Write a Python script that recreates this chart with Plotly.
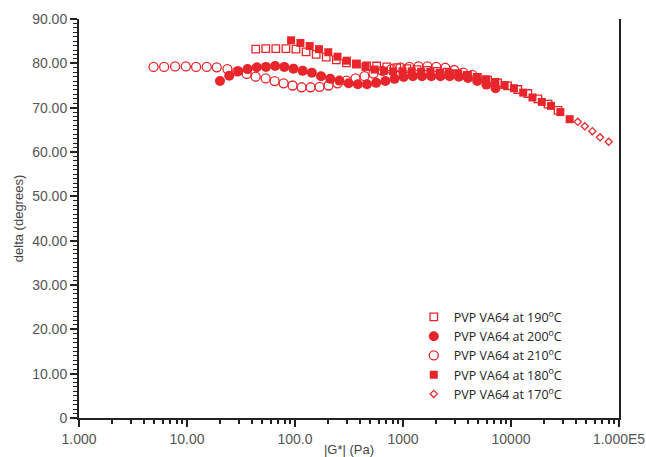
import plotly.graph_objects as go

# Complex modulus |G*| (Pa) and phase angle delta (degrees) for each melt temperature
g_190 = [43.3, 53.6, 66.4, 82.4, 102.1, 126.6, 157.0, 194.5, 241.3, 299.2, 370.7,
         460, 570, 707, 877, 1087, 1347, 1671, 2071, 2567, 3184, 3946, 4891,
         6066, 7516, 9311, 11560, 14320, 17750, 22030, 27290]
d_190 = [83.2, 83.3, 83.3, 83.3, 83.2, 82.6, 82.0, 81.4, 80.8, 80.1, 79.8,
         79.4, 79.4, 79.2, 79.0, 78.8, 78.6, 78.4, 78.2, 78.0, 77.7, 77.3, 76.8,
         76.2, 75.6, 74.9, 74.1, 73.2, 72.0, 70.8, 69.4]

g_200 = [20.2, 24.6, 29.9, 36.4, 44.3, 53.8, 65.5, 79.6, 96.8, 117.8, 143.2,
         174.2, 211.8, 257.6, 313.6, 381.4, 464.0, 564.2, 686.3, 834.9, 1015,
         1235, 1502, 1827, 2222, 2703, 3288, 3999, 4863, 5915, 7193]
d_200 = [76.0, 77.2, 78.2, 78.7, 79.1, 79.2, 79.4, 79.2, 78.8, 78.3, 77.9,
         77.1, 76.5, 76.1, 75.5, 75.3, 75.3, 75.6, 76.0, 76.5, 76.9,
         77.1, 77.1, 77.1, 77.1, 77.1, 77.0, 76.7, 76.0, 75.2, 74.4]

g_210 = [4.90, 6.14, 7.76, 9.75, 12.14, 15.24, 18.86, 23.67, 29.17, 35.70, 43.24,
         53.50, 64.79, 78.45, 95.0, 115.1, 139.4, 168.8, 204.4, 247.5, 299.9,
         363.2, 439.9, 532.6, 645.0, 781.3, 946.2, 1146, 1388, 1681, 2036,
         2466, 2985, 3616, 4379]
d_210 = [79.2, 79.2, 79.3, 79.3, 79.2, 79.2, 79.1, 78.7, 78.2, 77.6, 77.0,
         76.6, 76.0, 75.5, 75.0, 74.6, 74.6, 74.7, 75.0, 75.5, 76.1,
         76.6, 77.1, 77.7, 78.3, 78.7, 79.1, 79.2, 79.3, 79.3, 79.2,
         79.0, 78.5, 77.9, 77.4]

g_180 = [92.0, 112.2, 136.8, 166.7, 203.2, 247.7, 302, 368, 449, 547, 666,
         811, 989, 1205, 1469, 1791, 2183, 2661, 3243, 3953, 4819,
         5874, 7161, 8730, 10640, 12970, 15810, 19270, 23490, 28640, 34910]
d_180 = [85.2, 84.6, 83.9, 83.2, 82.5, 81.5, 80.6, 79.9, 79.2, 78.6, 78.3,
         78.2, 78.2, 78.2, 78.1, 78.1, 77.9, 77.8, 77.6, 77.3, 76.8,
         76.4, 75.8, 75.1, 74.4, 73.4, 72.3, 71.3, 70.4, 69.0, 67.4]

g_170 = [41520, 48190, 56650, 66730, 80320]
d_170 = [66.8, 65.8, 64.7, 63.3, 62.3]

x_tick_vals = [1, 10, 100, 1000, 10000, 100000]
x_tick_text = ["1.000", "10.00", "100.0", "1000", "10000", "1.000E5"]
y_tick_vals = [0, 10, 20, 30, 40, 50, 60, 70, 80, 90]
y_tick_text = ["0", "10.00", "20.00", "30.00", "40.00", "50.00",
               "60.00", "70.00", "80.00", "90.00"]

RED = "#e8252b"
deg = "<sup>o</sup>C"

fig = go.Figure()

# draw order: open squares, open circles, filled circles, filled squares, diamonds
fig.add_trace(go.Scatter(
    x=g_190, y=d_190, mode="markers", name="PVP VA64 at 190" + deg, legendrank=1,
    marker=dict(symbol="square-open", size=7.5, color=RED, line=dict(width=1.3, color=RED))))
fig.add_trace(go.Scatter(
    x=g_210, y=d_210, mode="markers", name="PVP VA64 at 210" + deg, legendrank=3,
    marker=dict(symbol="circle-open", size=9, color=RED, line=dict(width=1.3, color=RED))))
fig.add_trace(go.Scatter(
    x=g_200, y=d_200, mode="markers", name="PVP VA64 at 200" + deg, legendrank=2,
    marker=dict(symbol="circle", size=10, color=RED, line=dict(width=0))))
fig.add_trace(go.Scatter(
    x=g_180, y=d_180, mode="markers", name="PVP VA64 at 180" + deg, legendrank=4,
    marker=dict(symbol="square", size=8, color=RED, line=dict(width=0))))
fig.add_trace(go.Scatter(
    x=g_170, y=d_170, mode="markers", name="PVP VA64 at 170" + deg, legendrank=5,
    marker=dict(symbol="diamond-open", size=5.5, color=RED, line=dict(width=1.3, color=RED))))

AX = "#222222"
TICKFONT = dict(family="Liberation Sans, Arial, sans-serif", size=14, color="#555555")

minor_x = [m * 10 ** e for e in range(0, 5) for m in range(2, 10)]

fig.update_xaxes(
    type="log", range=[0, 5],
    tickmode="array", tickvals=x_tick_vals, ticktext=x_tick_text,
    ticks="outside", ticklen=7, tickwidth=1.5, tickcolor=AX,
    minor=dict(tickmode="array", tickvals=minor_x, ticks="outside",
               ticklen=4, tickwidth=1.5, tickcolor=AX),
    showline=True, linecolor=AX, linewidth=2, mirror=False,
    showgrid=False, zeroline=False, tickfont=TICKFONT,
    title=dict(text="|G*| (Pa)", standoff=1,
               font=dict(family="Liberation Sans, Arial, sans-serif", size=13, color="#444444")),
    automargin=False,
)
fig.update_yaxes(
    range=[0, 90],
    tickmode="array", tickvals=y_tick_vals, ticktext=y_tick_text,
    ticks="outside", ticklen=7, tickwidth=1.5, tickcolor=AX,
    minor=dict(dtick=1, tick0=0, ticks="outside", ticklen=4, tickwidth=1, tickcolor=AX),
    showline=True, linecolor=AX, linewidth=2, mirror=True,
    showgrid=False, zeroline=False, tickfont=TICKFONT,
    title=dict(text="delta (degrees)", standoff=6,
               font=dict(family="Liberation Sans, Arial, sans-serif", size=13, color="#444444")),
    automargin=False,
)

fig.update_layout(
    width=646, height=457,
    margin=dict(l=79, r=27, t=19, b=39),
    paper_bgcolor="white", plot_bgcolor="white",
    showlegend=True,
    legend=dict(
        x=0.62, y=0.29, xanchor="left", yanchor="top",
        bgcolor="rgba(0,0,0,0)", borderwidth=0,
        font=dict(family="Open Sans, Lato, sans-serif", size=12.5, color="#222222"),
        tracegroupgap=0, itemwidth=30,
    ),
)

fig.write_html("out.html")
